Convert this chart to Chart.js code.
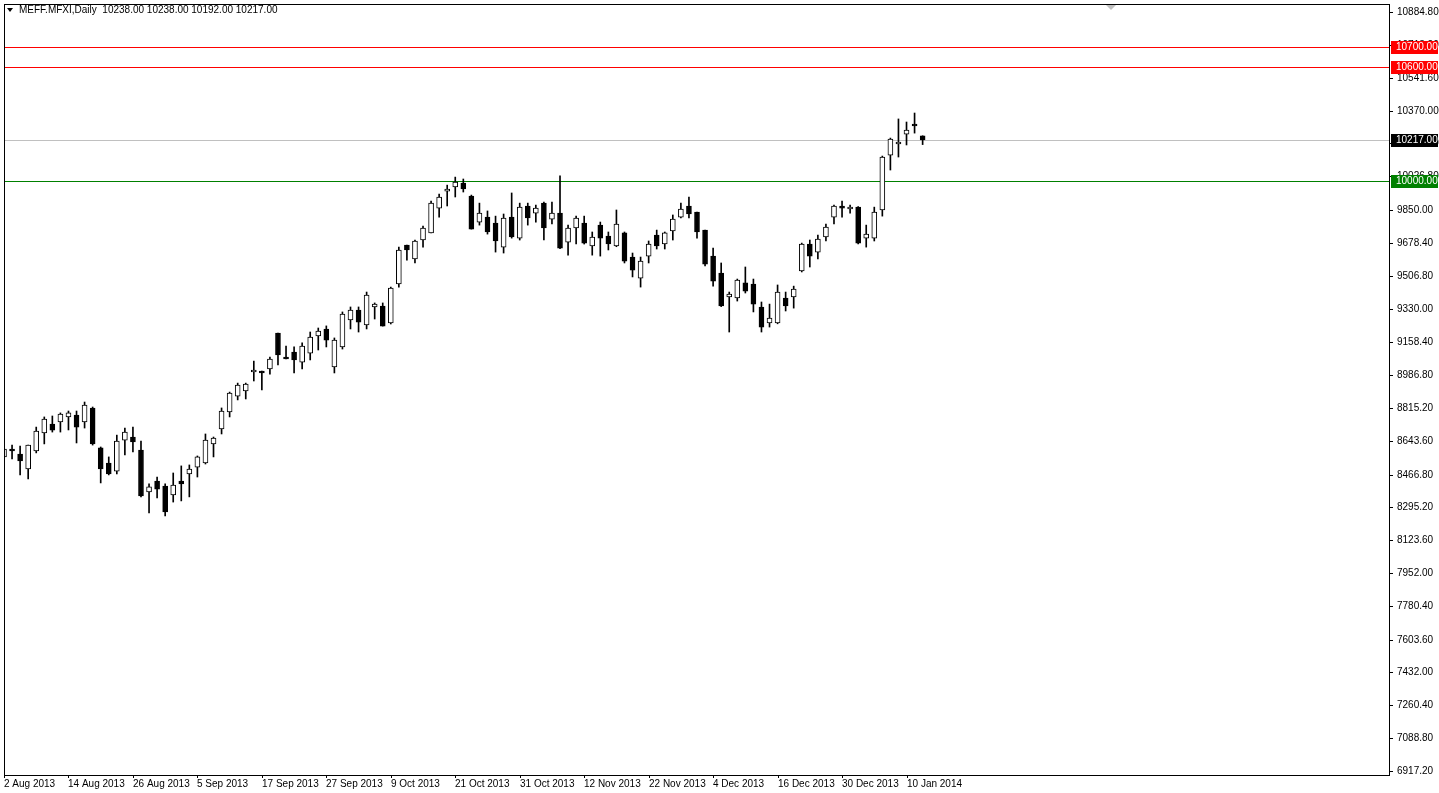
<!DOCTYPE html>
<html><head><meta charset="utf-8">
<script src="https://cdn.jsdelivr.net/npm/chart.js@4.4.0/dist/chart.umd.min.js"></script>
<style>html,body{margin:0;padding:0;background:#fff;overflow:hidden}#w{width:1439px;height:793px}</style>
</head><body><div id="w"><canvas id="c"></canvas></div>
<script>
const opens=[8559,8600,8574,8496,8590,8684,8731,8742,8768,8778,8742,8815,8606,8527,8485,8647,8663,8595,8376,8433,8407,8360,8433,8470,8506,8527,8627,8705,8794,8877,8904,9003,9003,9019,9207,9081,9107,9055,9102,9191,9228,9029,9134,9275,9327,9249,9343,9348,9259,9463,9667,9594,9693,9730,9860,9949,9970,9991,9923,9787,9813,9782,9656,9813,9703,9871,9834,9886,9802,9834,9682,9756,9782,9662,9771,9714,9662,9730,9604,9494,9609,9719,9672,9740,9813,9871,9839,9745,9609,9520,9395,9390,9469,9463,9343,9259,9259,9390,9395,9531,9672,9630,9709,9813,9865,9855,9865,9703,9703,9850,10137,10195,10247,10294,10238];
const highs=[8606,8621,8616,8621,8715,8768,8773,8789,8799,8799,8846,8820,8611,8559,8673,8710,8715,8642,8418,8454,8418,8475,8512,8517,8564,8679,8663,8815,8898,8945,8945,9060,9008,9081,9207,9139,9134,9155,9212,9233,9244,9181,9317,9343,9343,9421,9364,9364,9447,9656,9667,9693,9766,9897,9933,9980,10022,10012,9928,9886,9845,9818,9829,9939,9886,9886,9876,9892,9892,10028,9771,9818,9818,9735,9787,9735,9850,9735,9625,9604,9688,9745,9735,9824,9886,9918,9839,9745,9651,9573,9421,9489,9552,9489,9369,9358,9458,9421,9452,9677,9693,9719,9777,9876,9897,9876,9868,9771,9865,10132,10226,10326,10310,10357,10238];
const lows=[8491,8548,8465,8444,8580,8627,8689,8689,8700,8632,8710,8621,8423,8465,8470,8569,8585,8350,8266,8344,8250,8323,8329,8350,8454,8522,8559,8679,8768,8857,8862,8956,8909,8992,9040,9071,8998,9019,9066,9118,9134,8998,9123,9228,9212,9228,9280,9243,9254,9447,9588,9573,9656,9730,9813,9871,9918,9944,9750,9771,9724,9630,9625,9703,9693,9771,9787,9693,9777,9648,9614,9672,9672,9614,9609,9641,9658,9573,9500,9447,9573,9646,9646,9693,9808,9808,9703,9557,9452,9345,9212,9374,9416,9317,9212,9238,9255,9322,9337,9526,9552,9594,9688,9777,9813,9834,9672,9656,9688,9818,10059,10127,10190,10252,10192];
const closes=[8600,8590,8538,8621,8694,8757,8699,8783,8789,8715,8830,8627,8496,8470,8642,8689,8637,8355,8402,8391,8271,8412,8418,8496,8559,8647,8658,8799,8893,8935,8940,9008,8998,9071,9092,9071,9066,9139,9186,9217,9170,9170,9306,9327,9264,9405,9358,9243,9442,9641,9641,9688,9756,9886,9918,9954,9996,9960,9750,9834,9735,9688,9808,9709,9865,9808,9860,9756,9834,9651,9756,9808,9677,9709,9703,9672,9777,9583,9536,9583,9672,9662,9730,9802,9855,9829,9735,9567,9478,9348,9410,9484,9426,9358,9238,9285,9421,9348,9437,9672,9609,9698,9761,9871,9860,9865,9677,9724,9839,10127,10221,10200,10268,10289,10217];
const yTicks=[10884.8,10713.2,10541.6,10370,10198.4,10026.8,9850,9678.4,9506.8,9330,9158.4,8986.8,8815.2,8643.6,8466.8,8295.2,8123.6,7952,7780.4,7603.6,7432,7260.4,7088.8,6917.2];
const hLines=[{v:10700,c:'#ff0000',bg:'#ff0000',fg:'#fff'},{v:10600,c:'#ff0000',bg:'#ff0000',fg:'#fff'},{v:10217,c:'#c0c0c0',bg:'#000',fg:'#fff'},{v:10000,c:'#008000',bg:'#008000',fg:'#fff'}];
const holidays=['2013-12-25','2013-12-26','2014-01-01'];
const mon=['Jan','Feb','Mar','Apr','May','Jun','Jul','Aug','Sep','Oct','Nov','Dec'];
const dates=[];
{let d=new Date(Date.UTC(2013,7,2));while(dates.length<opens.length){const w=d.getUTCDay();const iso=d.toISOString().slice(0,10);if(w!==0&&w!==6&&!holidays.includes(iso))dates.push(d.getUTCDate()+' '+mon[d.getUTCMonth()]+' '+d.getUTCFullYear());d=new Date(d.getTime()+86400000);}}
const SLOTS=173;
const labels=[];for(let i=0;i<SLOTS;i++)labels.push(i<dates.length?dates[i]:'');
const wick=opens.map((o,i)=>[lows[i],highs[i]]);
const body=opens.map((o,i)=>[o,closes[i]]);
const bodyBg=opens.map((o,i)=>closes[i]>=o?'#ffffff':'#000000');
const F='"Liberation Sans", Arial, sans-serif';
const lines={id:'lines',beforeDatasetsDraw(ch){const {ctx,chartArea:a,scales:{y}}=ch;ctx.save();
 hLines.forEach(h=>{const p=Math.round(y.getPixelForValue(h.v));ctx.fillStyle=h.c;ctx.fillRect(a.left,p,a.right-a.left,1);});ctx.restore();}};
const deco={id:'deco',afterDatasetsDraw(ch){const {ctx,chartArea:a,scales:{x,y}}=ch;ctx.save();
 ctx.font='10px '+F;ctx.textBaseline='middle';ctx.textAlign='left';ctx.fillStyle='#000';
 yTicks.forEach(v=>{const p=Math.round(y.getPixelForValue(v));ctx.fillRect(a.right,p,3,1);ctx.fillText(v.toFixed(2),a.right+7,p);});
 for(let i=0;i<dates.length;i+=8){const px=Math.round(x.getPixelForValue(i));ctx.fillRect(px,a.bottom,1,3);ctx.fillText(dates[i],px,a.bottom+9);}
 hLines.forEach(h=>{const p=Math.round(y.getPixelForValue(h.v));ctx.fillStyle=h.bg;ctx.fillRect(a.right+1,p-6,47,13);ctx.fillStyle=h.fg;ctx.fillText(h.v.toFixed(2),a.right+6,p+0.5);});
 ctx.fillStyle='#000';
 ctx.fillRect(a.left,a.top,a.right-a.left,1);ctx.fillRect(a.left,a.bottom,a.right-a.left,1);ctx.fillRect(a.left,a.top,1,a.bottom-a.top);ctx.fillRect(a.right-1,a.top,1,a.bottom-a.top);
 ctx.beginPath();ctx.moveTo(7,8);ctx.lineTo(13,8);ctx.lineTo(10,12);ctx.closePath();ctx.fill();
 ctx.fillText('MEFF.MFXI,Daily  10238.00 10238.00 10192.00 10217.00',19,10);
 ctx.fillStyle='#c0c0c0';ctx.beginPath();ctx.moveTo(1106,5);ctx.lineTo(1116,5);ctx.lineTo(1111,10);ctx.closePath();ctx.fill();
 ctx.restore();}};
new Chart(document.getElementById('c'),{type:'bar',
 data:{labels,datasets:[
  {data:wick,backgroundColor:'#000',barThickness:1,grouped:false,order:2},
  {data:body,backgroundColor:bodyBg,borderColor:'#000',borderWidth:1,borderSkipped:false,barThickness:5,minBarLength:2,grouped:false,order:1}]},
 options:{responsive:true,maintainAspectRatio:false,animation:false,devicePixelRatio:1,
  layout:{padding:{left:4,top:4,right:0,bottom:0}},
  plugins:{legend:{display:false},tooltip:{enabled:false}},
  scales:{
   x:{offset:false,grid:{display:false},border:{display:false},ticks:{display:false},afterFit:s=>{s.height=18;}},
   y:{position:'right',min:6896,max:10927,grid:{display:false},border:{display:false},ticks:{display:false},afterFit:s=>{s.width=49;}}}},
 plugins:[lines,deco]});
</script></body></html>
